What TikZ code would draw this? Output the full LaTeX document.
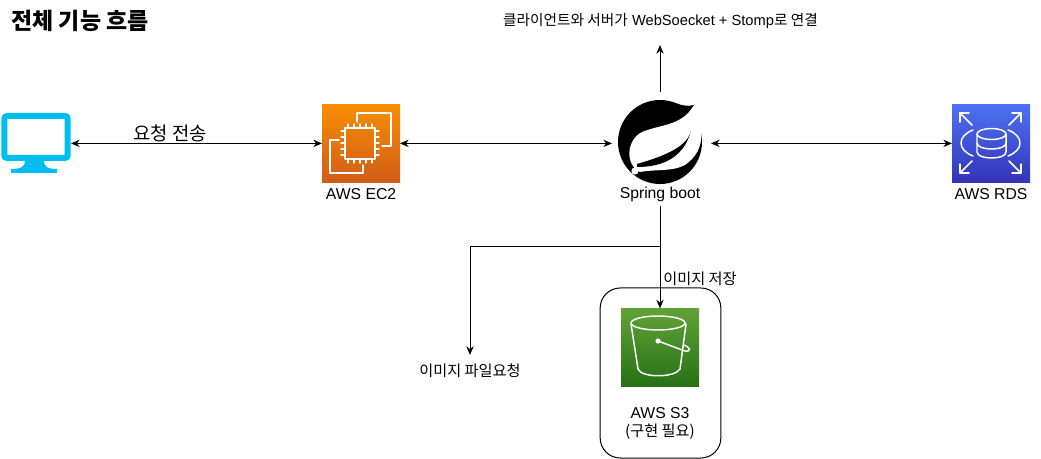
\documentclass[tikz,border=0pt]{standalone}
\usepackage{fontspec}
\setmainfont{Liberation Sans}
\newfontfamily\kr{Noto Sans CJK KR}
\usetikzlibrary{arrows.meta}
\usetikzlibrary{positioning}

\begin{document}
\begin{tikzpicture}[x=0.75pt,y=-0.75pt]
  \tikzset{icon/.style = {shape=rectangle,minimum size=58.5pt,inner sep=0pt,outer sep=0pt}}
  \tikzset{ec2icon/.style = {icon,top color=ec2top,bottom color=ec2bot}}
  \tikzset{rdsicon/.style = {icon,top color=rdstop,bottom color=rdsbot}}
  \tikzset{s3icon/.style = {icon,top color=s3top,bottom color=s3bot}}
  \tikzset{label/.style = {inner sep=0pt,font=\fontsize{11.8}{14}\selectfont}}
  \tikzset{klabel/.style = {inner sep=0pt,font=\kr\fontsize{11.4}{14}\selectfont}}
  \tikzset{link/.style = {draw=black,line width=0.75pt}}
  \tikzset{twoway/.style = {link,{Stealth[length=6.5pt,width=5.5pt]}-{Stealth[length=6.5pt,width=5.5pt]}}}
  \tikzset{oneway/.style = {link,-{Stealth[length=6.5pt,width=5.5pt]}}}
  \tikzset{glyph/.style = {draw=white,line width=1.1pt,line join=round,line cap=round}}
  \definecolor{ec2top}{HTML}{F78E04}
  \definecolor{ec2bot}{HTML}{D05C17}
  \definecolor{rdstop}{HTML}{4D72F3}
  \definecolor{rdsbot}{HTML}{3334B9}
  \definecolor{s3top}{HTML}{60A337}
  \definecolor{s3bot}{HTML}{277116}
  \definecolor{screen}{HTML}{00BEF2}

  \useasboundingbox (0,0) rectangle (1041,459);

  \node[inner sep=0pt,font=\kr\bfseries\fontsize{17.2}{20}\selectfont] (Title) at (80,21) {전체 기능 흐름};
  \node[inner sep=0pt,font=\fontsize{11}{13}\selectfont] (Ttop) at (660.5,21) {{\kr 클라이언트와 서버가} WebSoecket + Stomp{\kr 로 연결}};

  % monitor
  \node[draw=screen,line width=4.5pt,rounded corners=2pt,minimum width=47.5pt,minimum height=31.5pt,inner sep=0pt] (M) at (36,137) {};
  \fill[screen] (25,161) .. controls (25,166) and (22,169) .. (11,169) -- (11,173) -- (57,173) -- (57,169) .. controls (47,169) and (44,166) .. (44,161) -- cycle;
  \coordinate (Mr) at (71,143.4);

  % ec2
  \node[ec2icon] (EC2) at (361,143.4) {};
  \node[label,below=4.5pt of EC2] (EC2l) {AWS EC2};
  \draw[glyph] (357,122) -- (357,113) -- (391,113) -- (391,146) -- (382,146);
  \draw[glyph] (339,140) -- (330,140) -- (330,173) -- (363,173) -- (363,165);
  \draw[glyph] (345,128) rectangle (375,159);
  \foreach \p in {0,1,2,3,4} {
    \draw[glyph,line width=0.9pt] (348+6*\p,128) -- (348+6*\p,124);
    \draw[glyph,line width=0.9pt] (348+6*\p,159) -- (348+6*\p,163);
    \draw[glyph,line width=0.9pt] (345,131+6*\p) -- (341,131+6*\p);
    \draw[glyph,line width=0.9pt] (375,131+6*\p) -- (379,131+6*\p);
  }

  % spring
  \node[shape=circle,fill=black,minimum size=63pt,inner sep=0pt] (S) at (660,142) {};
  \fill[black] (672,102) .. controls (680,105) and (688,107) .. (694,105) -- (680,125) -- cycle;
  \fill[white] (693,107) .. controls (704,125) and (707,150) .. (685,165) .. controls (672,172) and (655,169) .. (640,172) .. controls (625,165) and (626,140) .. (642,132) .. controls (662,124) and (680,126) .. (693,107) -- cycle;
  \fill[black] (691,131) .. controls (687,146) and (668,155) .. (637,164) -- (637,167) .. controls (665,167) and (684,156) .. (691,131) -- cycle;
  \fill[white] (635,171) circle (3.6);
  \node[label] (Sl) at (660,194) {Spring boot};
  \coordinate (Sup) at (660,92);
  \coordinate (Sdown) at (660,206);
  \coordinate (Sleft) at (612,143.4);
  \coordinate (Sright) at (711,143.4);
  \coordinate (Ttip) at (660,45);

  % rds
  \node[rdsicon] (RDS) at (991,143.4) {};
  \node[label,below=4.5pt of RDS] (RDSl) {AWS RDS};
  \draw[glyph] (991.5,134) ellipse (14.5 and 5.5);
  \draw[glyph] (977,134) -- (977,152) .. controls (977,160) and (1006,160) .. (1006,152) -- (1006,134);
  \draw[glyph] (977,143) .. controls (977,151) and (1006,151) .. (1006,143);
  \draw[glyph] (960,113) -- (972,125);
  \draw[glyph] (960,122) -- (960,113) -- (969,113);
  \draw[glyph] (1021,113) -- (1009,125);
  \draw[glyph] (1012,113) -- (1021,113) -- (1021,122);
  \draw[glyph] (960,173) -- (972,161);
  \draw[glyph] (960,164) -- (960,173) -- (969,173);
  \draw[glyph] (1021,173) -- (1009,161);
  \draw[glyph] (1012,173) -- (1021,173) -- (1021,164);
  \draw[glyph] (973,130) .. controls (957,136) and (957,150) .. (973,156);
  \draw[glyph] (1008,130) .. controls (1024,136) and (1024,150) .. (1008,156);

  % s3
  \node[draw=black,line width=0.75pt,rounded corners=15pt,minimum width=90.5pt,minimum height=127.5pt,inner sep=0pt] (Sbox) at (660.5,373) {};
  \node[s3icon] (S3) at (660,347.4) {};
  \node[label] (S3l) at (660,413) {AWS S3};
  \node[klabel] (S3n) at (660,432) {(구현 필요)};
  \draw[glyph] (658,323) ellipse (27 and 7);
  \draw[glyph] (631,324) -- (638,369) .. controls (641,378) and (675,378) .. (680,369) -- (686,324);
  \fill[white] (658,341) circle (2.6);
  \draw[glyph] (658,341) -- (685,351) .. controls (692,352) and (690,347) .. (684,345);

  % labels of links
  \node[klabel,font=\kr\fontsize{14.1}{17}\selectfont] (Treq) at (170,133) {요청 전송};
  \node[klabel] (Tsave) at (700,279) {이미지 저장};
  \node[klabel] (Tfile) at (470,371) {이미지 파일요청};
  \coordinate (Fturn) at (470,247);
  \coordinate (Fsplit) at (660,247);
  \coordinate (Ftip) at (470,355);

  \draw[twoway] (Mr) -- (EC2.west);
  \draw[twoway] (EC2.east) -- (Sleft);
  \draw[twoway] (Sright) -- (RDS.west);
  \draw[oneway] (Sup) -- (Ttip);
  \draw[oneway] (Sdown) -- (S3.north);
  \draw[oneway] (Fsplit) -- (Fturn) -- (Ftip);
\end{tikzpicture}
\end{document}
